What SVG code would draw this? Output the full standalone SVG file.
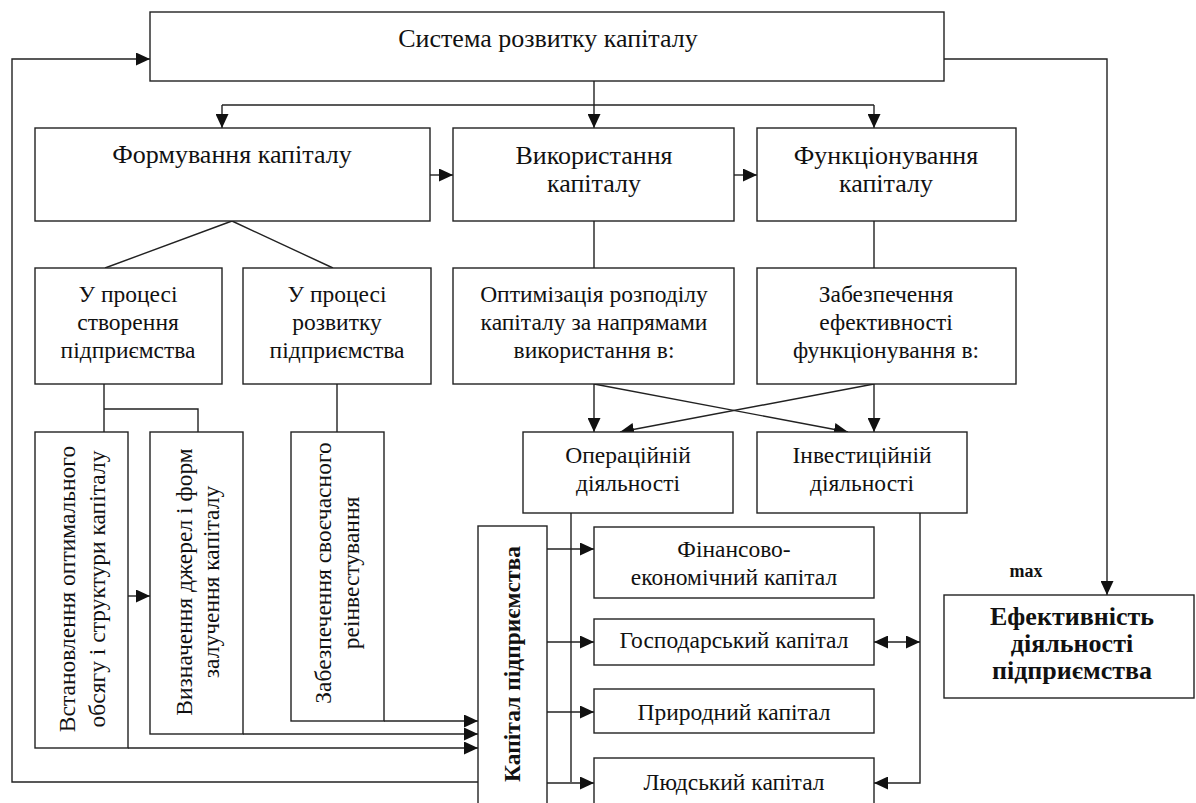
<svg xmlns="http://www.w3.org/2000/svg" width="1196" height="803" viewBox="0 0 1196 803">
<style>
.b{fill:#fff;stroke:#222;stroke-width:1.4}
.t{font-family:"Liberation Serif","Times New Roman",serif;font-size:23.5px;fill:#111;text-anchor:middle}
.h{font-size:26px}
.bd{font-weight:bold}
.c{fill:none;stroke:#222;stroke-width:1.4}
.a{marker-end:url(#ah)}
</style>
<defs>
<marker id="ah" markerUnits="userSpaceOnUse" markerWidth="14" markerHeight="13" refX="14" refY="6.5" orient="auto-start-reverse" viewBox="0 0 14 13">
<path d="M0,0 L14,6.5 L0,13 z" fill="#111"/>
</marker>
</defs>
<rect width="1196" height="803" fill="#fff"/>

<g id="connectors">
<path class="c a" d="M478,782 H12 V59 H150"/>
<path class="c a" d="M944,59 H1107 V595"/>
<path class="c a" d="M594,81 V128"/>
<path class="c" d="M222,105 H874"/>
<path class="c a" d="M222,105 V128"/>
<path class="c a" d="M874,105 V128"/>
<path class="c a" d="M430,175 H453"/>
<path class="c a" d="M734,175 H757"/>
<path class="c" d="M232,221 L105,268 M232,221 L333,268"/>
<path class="c" d="M594,221 V268 M874,221 V268"/>
<path class="c" d="M104,384 V432 M104,409 H198 V432 M337,384 V432"/>
<path class="c a" d="M128,596 H150"/>
<path class="c a" d="M384,721 H478"/>
<path class="c a" d="M243,734 H478"/>
<path class="c a" d="M128,748 H478"/>
<path class="c a" d="M594,384 V432"/>
<path class="c a" d="M874,384 V432"/>
<path class="c a" d="M594,384 L848,432"/>
<path class="c a" d="M874,384 L620,432"/>
<path class="c" d="M571,513 V782"/>
<path class="c a" d="M547,549 H594"/>
<path class="c a" d="M547,642 H594"/>
<path class="c a" d="M547,712 H594"/>
<path class="c a" d="M547,783 H594"/>
<path class="c a" d="M920,513 V783 H874"/>
<path class="c a" d="M874,642 H920" style="marker-start:url(#ah)"/>
</g>

<g id="n-system">
<rect class="b" x="150" y="12" width="794" height="69"/>
<text class="t h" x="548" y="47">Система розвитку капіталу</text>
</g>
<g id="n-form">
<rect class="b" x="35" y="128" width="395" height="93"/>
<text class="t h" x="232" y="163">Формування капіталу</text>
</g>
<g id="n-use">
<rect class="b" x="453" y="128" width="281" height="93"/>
<text class="t h" x="594" y="164">Використання</text>
<text class="t h" x="594" y="192">капіталу</text>
</g>
<g id="n-func">
<rect class="b" x="757" y="128" width="259" height="93"/>
<text class="t h" x="886" y="164">Функціонування</text>
<text class="t h" x="886" y="192">капіталу</text>
</g>
<g id="n-create">
<rect class="b" x="35" y="268" width="187" height="116"/>
<text class="t" x="128" y="302">У процесі</text>
<text class="t" x="128" y="330">створення</text>
<text class="t" x="128" y="358">підприємства</text>
</g>
<g id="n-develop">
<rect class="b" x="243" y="268" width="188" height="116"/>
<text class="t" x="337" y="302">У процесі</text>
<text class="t" x="337" y="330">розвитку</text>
<text class="t" x="337" y="358">підприємства</text>
</g>
<g id="n-optim">
<rect class="b" x="453" y="268" width="281" height="116"/>
<text class="t" x="594" y="302">Оптимізація розподілу</text>
<text class="t" x="594" y="330">капіталу за напрямами</text>
<text class="t" x="594" y="358">використання в:</text>
</g>
<g id="n-ensure">
<rect class="b" x="757" y="268" width="259" height="116"/>
<text class="t" x="886" y="302">Забезпечення</text>
<text class="t" x="886" y="330">ефективності</text>
<text class="t" x="886" y="358">функціонування в:</text>
</g>
<g id="n-establish">
<rect class="b" x="35" y="432" width="93" height="316"/>
<text class="t" transform="translate(75,589) rotate(-90)">Встановлення оптимального</text>
<text class="t" transform="translate(105,589) rotate(-90)">обсягу  і структури капіталу</text>
</g>
<g id="n-define">
<rect class="b" x="150" y="432" width="93" height="302"/>
<text class="t" transform="translate(192,582) rotate(-90)">Визначення джерел і форм</text>
<text class="t" transform="translate(219,582) rotate(-90)">залучення капіталу</text>
</g>
<g id="n-reinvest">
<rect class="b" x="291" y="432" width="93" height="289"/>
<text class="t" transform="translate(331,573) rotate(-90)">Забезпечення своєчасного</text>
<text class="t" transform="translate(359,573) rotate(-90)">реінвестування</text>
</g>
<g id="n-oper">
<rect class="b" x="523" y="432" width="210" height="81"/>
<text class="t" x="628" y="463">Операційній</text>
<text class="t" x="628" y="491">діяльності</text>
</g>
<g id="n-invest">
<rect class="b" x="757" y="432" width="210" height="81"/>
<text class="t" x="862" y="463">Інвестиційній</text>
<text class="t" x="862" y="491">діяльності</text>
</g>
<g id="n-capital">
<rect class="b" x="478" y="526" width="69" height="290"/>
<text class="t bd" transform="translate(520,664) rotate(-90)">Капітал підприємства</text>
</g>
<g id="n-fin">
<rect class="b" x="594" y="527" width="280" height="71"/>
<text class="t" x="734" y="557">Фінансово-</text>
<text class="t" x="734" y="585">економічний капітал</text>
</g>
<g id="n-econ">
<rect class="b" x="594" y="619" width="280" height="46"/>
<text class="t" x="734" y="648">Господарський капітал</text>
</g>
<g id="n-nat">
<rect class="b" x="594" y="689" width="280" height="44"/>
<text class="t" x="734" y="720">Природний капітал</text>
</g>
<g id="n-human">
<rect class="b" x="594" y="758" width="280" height="60"/>
<text class="t" x="734" y="790">Людський капітал</text>
</g>
<g id="n-eff">
<rect class="b" x="944" y="595" width="250" height="103"/>
<text class="t h bd" x="1072" y="625">Ефективність</text>
<text class="t h bd" x="1072" y="652">діяльності</text>
<text class="t h bd" x="1072" y="679">підприємства</text>
</g>
<g id="l-max">
<text class="t bd" x="1026" y="577" style="font-size:18px">max</text>
</g>
</svg>
